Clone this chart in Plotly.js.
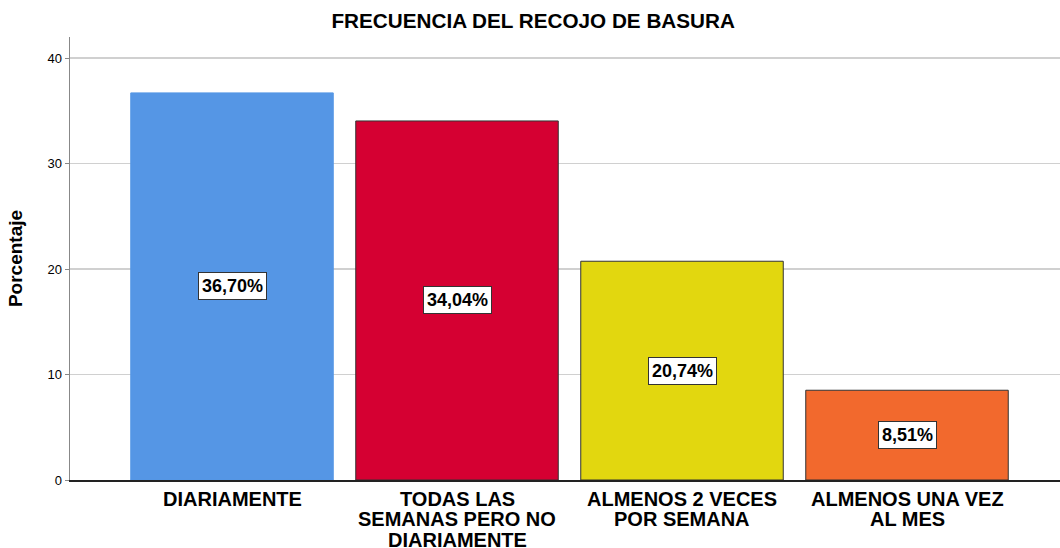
<!DOCTYPE html>
<html>
<head>
<meta charset="utf-8">
<script src="https://cdn.plot.ly/plotly-3.0.1.min.js"></script>
<style>html,body{margin:0;padding:0;background:#fff;}#chart{width:1060px;height:548px;}</style>
</head>
<body>
<div id="chart"></div>
<script>
const categories = ["DIARIAMENTE", "TODAS LAS SEMANAS PERO NO DIARIAMENTE", "ALMENOS 2 VECES POR SEMANA", "ALMENOS UNA VEZ AL MES"];
const categoryLines = [["DIARIAMENTE"], ["TODAS LAS", "SEMANAS PERO NO", "DIARIAMENTE"], ["ALMENOS 2 VECES", "POR SEMANA"], ["ALMENOS UNA VEZ", "AL MES"]];
const values = [36.70, 34.04, 20.74, 8.51];
const valueLabels = ["36,70%", "34,04%", "20,74%", "8,51%"];
const barColors = ["#5596E5", "#D50032", "#E2D70F", "#F2692D"];
const outlineColors = ["#5596E5", "#333333", "#333333", "#333333"];
const yTicks = [0, 10, 20, 30, 40];

const FONT = "Liberation Sans, Arial, sans-serif";

const trace = {
  type: "bar",
  x: categories,
  y: values,
  width: 0.9,
  marker: {color: barColors, line: {color: outlineColors, width: 1}},
  hoverinfo: "none"
};

const annotations = values.map((v, i) => ({
  x: categories[i], y: v / 2, xref: "x", yref: "y",
  text: "<b>" + valueLabels[i] + "</b>",
  showarrow: false,
  bgcolor: "#ffffff", bordercolor: "#333333", borderwidth: 1, borderpad: 3,
  font: {family: FONT, size: 18, color: "#000"}
}));

categoryLines.forEach((lines, i) => {
  lines.forEach((line, j) => {
    annotations.push({
      x: categories[i], y: 0, xref: "x", yref: "paper",
      yanchor: "top", xanchor: "center", yshift: -7 - 20.3 * j,
      text: "<b>" + line + "</b>", showarrow: false, borderpad: 0,
      font: {family: FONT, size: 20, color: "#000"}
    });
  });
});

const layout = {
  width: 1060, height: 548,
  margin: {l: 70, r: 0, t: 37, b: 68},
  paper_bgcolor: "#fff", plot_bgcolor: "#fff",
  showlegend: false,
  title: {
    text: "<b>FRECUENCIA DEL RECOJO DE BASURA</b>",
    x: 0.503, xref: "container", xanchor: "center", y: 0.9617, yref: "container", yanchor: "middle",
    font: {family: FONT, size: 20.7, color: "#000"}
  },
  xaxis: {
    type: "category",
    range: [-0.72, 3.68],
    showline: true, linecolor: "#222", linewidth: 1.5,
    ticks: "", showgrid: false, zeroline: false,
    showticklabels: false,
    fixedrange: true
  },
  yaxis: {
    range: [0, 42],
    tickvals: yTicks,
    ticktext: yTicks.map(String),
    showline: true, linecolor: "#888", linewidth: 1.5,
    ticks: "outside", ticklen: 4, tickcolor: "#888",
    showgrid: true, gridcolor: "#d0d0d0", gridwidth: 1.5,
    zeroline: false,
    tickfont: {family: FONT, size: 13, color: "#000"},
    title: {text: "<b>Porcentaje</b>", standoff: 20,
      font: {family: FONT, size: 19, color: "#000"}},
    fixedrange: true
  },
  annotations: annotations
};

Plotly.newPlot("chart", [trace], layout, {displayModeBar: false, staticPlot: true});
</script>
</body>
</html>
